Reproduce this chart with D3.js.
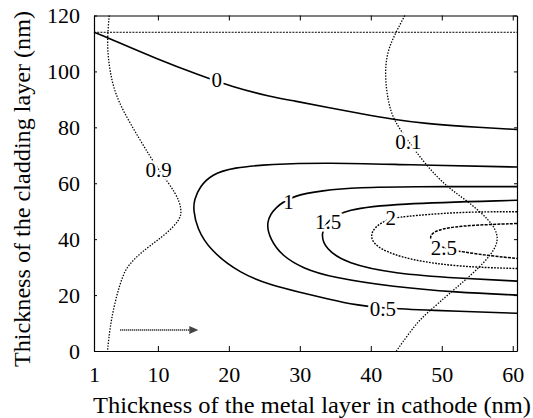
<!DOCTYPE html>
<html>
<head>
<meta charset="utf-8">
<script src="https://cdn.jsdelivr.net/npm/d3@7"></script>
<style>
  body { margin: 0; background: #fff; }
  svg text { fill: #000; }
</style>
</head>
<body>
<div id="chart"></div>
<script>
// axis ticks
var xTicks = [1, 10, 20, 30, 40, 50, 60];
var yTicks = [0, 20, 40, 60, 80, 100, 120];

// contour lines, [metal thickness, cladding thickness]
var c0 = [[1,114],[3.25,111.7],[9.8,104.5],[15.9,98.6],[20.6,94.4],[25.8,91],[29.1,89.5],[33.8,87.2],[38.5,84.9],[43.2,82.8],[47.9,81.3],[52.5,80.4],[60.6,79.2]];
var c01 = [[44.8,120],[43.4,113.4],[42.2,106.3],[42,98],[42.4,89.6],[43.2,82.5],[45.3,75],[47.8,66.4],[50.7,58.7],[53.5,53.9],[56.8,46.8],[58.2,40.8],[57.2,34.9],[54.4,27.7],[51.1,20.6],[47.9,13.5],[46.4,9.9],[43.6,0]];
var c05 = [[60.6,65.8],[45,66.6],[33.8,67.4],[25.8,66.8],[20.6,65.6],[17.6,63.2],[15.9,58.8],[15.1,54],[15,50.4],[15.5,44],[17.3,36.1],[21.6,27.7],[26,23.5],[30,21],[34,18.6],[38,16.4],[41.7,15.3],[47.9,14.6],[60.6,13.5]];
var c09 = [[3.15,120],[2.8,110],[3.2,100],[4.2,89.6],[7.5,75.4],[10.1,64.6],[12.65,56.3],[13.4,50.4],[13.1,46.8],[11.2,42],[9.35,38.5],[7.5,34.9],[6.07,31.3],[5.1,27.7],[4,18.2],[3.25,8.7],[2.9,0]];
var c1 = [[60.6,58.8],[45,58.8],[38.5,58.5],[33,57.4],[29.1,55.6],[26.5,51.5],[25.2,46.2],[25.8,40],[27.5,34],[30.5,29.5],[34.5,26.3],[43.2,22.9],[52,21],[60.6,20]];
var c15 = [[60.6,53.9],[43.2,52.7],[36.5,50.6],[34,47],[32.9,42],[33.6,36.5],[36.6,31.3],[43.2,27.7],[52.5,26],[60.6,25]];
var c2 = [[60.6,49.8],[52.5,49.8],[44.1,48],[42.5,47.2],[40.6,44.6],[39.8,40.8],[41,36.5],[45.5,32.5],[52.5,30.1],[60.6,29.5]];
var c25 = [[60.6,45.6],[53.9,45],[49.7,43.8],[48.2,41.4],[48.6,39],[50.3,36.7],[53,35.4],[57,34],[60.6,33.1]];
var topLine = [[1,114],[60.6,114]];

// level labels and where they sit
var labelText = ["0", "0.1", "0.5", "0.9", "1", "1.5", "2", "2.5"];
var labelPos = [[18.3,97],[45.3,74.8],[41.7,15.2],[10.1,64.6],[28.4,53.3],[34,46.2],[42.8,47.4],[50.3,37]];

// arrow at the bottom left
var arrowFrom = [4.7, 7.5];
var arrowTo = [15.7, 7.5];

var W = 533, H = 418;
var margin = {left: 94, right: 16, top: 15.5, bottom: 67};
var font = "'Liberation Serif', 'DejaVu Serif', 'Liberation Sans', sans-serif";

var svg = d3.select("#chart").append("svg")
  .attr("width", W)
  .attr("height", H);

var x = d3.scaleLinear().domain([1, 60.6]).range([margin.left, W - margin.right]);
var y = d3.scaleLinear().domain([0, 120]).range([H - margin.bottom, margin.top]);

var line = d3.line()
  .x(function(d){ return x(d[0]); })
  .y(function(d){ return y(d[1]); })
  .curve(d3.curveBasis);

var plot = svg.append("g");

plot.append("path").datum(topLine)
  .attr("d", line).attr("fill", "none").attr("stroke", "#000")
  .attr("stroke-width", 1).attr("stroke-dasharray", "2,1.2");

var contours = [
  {d: c0, w: 1.6, dash: null},
  {d: c01, w: 1.3, dash: "1.4,1.5"},
  {d: c05, w: 1.6, dash: null},
  {d: c09, w: 1.3, dash: "1.4,1.5"},
  {d: c1, w: 1.6, dash: null},
  {d: c15, w: 1.6, dash: null},
  {d: c2, w: 1.4, dash: "1.8,1.3"},
  {d: c25, w: 1.5, dash: "3,1.2"}
];

contours.forEach(function(c){
  plot.append("path").datum(c.d)
    .attr("d", line)
    .attr("fill", "none")
    .attr("stroke", "#000")
    .attr("stroke-width", c.w)
    .attr("stroke-dasharray", c.dash);
});

// labels with white halo so lines break around them
labelText.forEach(function(t, i){
  plot.append("text")
    .attr("x", x(labelPos[i][0]))
    .attr("y", y(labelPos[i][1]))
    .attr("text-anchor", "middle")
    .attr("dominant-baseline", "central")
    .attr("font-family", font)
    .attr("font-size", 21)
    .style("stroke", "#fff")
    .style("stroke-width", 5)
    .style("paint-order", "stroke")
    .text(t);
});

// arrow
plot.append("line")
  .attr("x1", x(arrowFrom[0])).attr("y1", y(arrowFrom[1]))
  .attr("x2", x(arrowTo[0]) - 6).attr("y2", y(arrowTo[1]))
  .attr("stroke", "#333").attr("stroke-width", 2).attr("stroke-dasharray", "1,1");
var ax = x(arrowTo[0]), ay = y(arrowTo[1]);
plot.append("path")
  .attr("d", "M" + ax + "," + ay + "L" + (ax - 9) + "," + (ay - 4) + "L" + (ax - 9) + "," + (ay + 4) + "Z")
  .attr("fill", "#444");

// axes, ticks pointing inwards
var xAxis = svg.append("g")
  .attr("transform", "translate(0," + y(0) + ")")
  .call(d3.axisBottom(x).tickValues(xTicks).tickSizeInner(-5).tickSizeOuter(0).tickPadding(15));
var yAxis = svg.append("g")
  .attr("transform", "translate(" + x(1) + ",0)")
  .call(d3.axisLeft(y).tickValues(yTicks).tickSizeInner(-3).tickSizeOuter(0).tickPadding(14));
var xAxisTop = svg.append("g")
  .attr("transform", "translate(0," + y(120) + ")")
  .call(d3.axisTop(x).tickValues(xTicks).tickSizeInner(-5).tickSizeOuter(0).tickFormat(""));
var yAxisRight = svg.append("g")
  .attr("transform", "translate(" + x(60.6) + ",0)")
  .call(d3.axisRight(y).tickValues(yTicks).tickSizeInner(-3).tickSizeOuter(0).tickFormat(""));

[xAxis, yAxis, xAxisTop, yAxisRight].forEach(function(a){
  a.attr("font-family", font).attr("font-size", 22);
  a.selectAll("text").attr("fill", "#000");
  a.selectAll("line").attr("stroke", "#000");
  a.select(".domain").attr("stroke", "#000").attr("stroke-width", 1.2);
});

// axis titles
svg.append("text")
  .attr("x", 312).attr("y", 405)
  .attr("text-anchor", "middle")
  .attr("dominant-baseline", "central")
  .attr("textLength", 438)
  .attr("lengthAdjust", "spacingAndGlyphs")
  .attr("font-family", font)
  .attr("font-size", 23)
  .text("Thickness of the metal layer in cathode (nm)");

svg.append("text")
  .attr("transform", "translate(22,189) rotate(-90)")
  .attr("text-anchor", "middle")
  .attr("dominant-baseline", "central")
  .attr("textLength", 356)
  .attr("lengthAdjust", "spacingAndGlyphs")
  .attr("font-family", font)
  .attr("font-size", 24)
  .text("Thickness of the cladding layer (nm)");
</script>
</body>
</html>
